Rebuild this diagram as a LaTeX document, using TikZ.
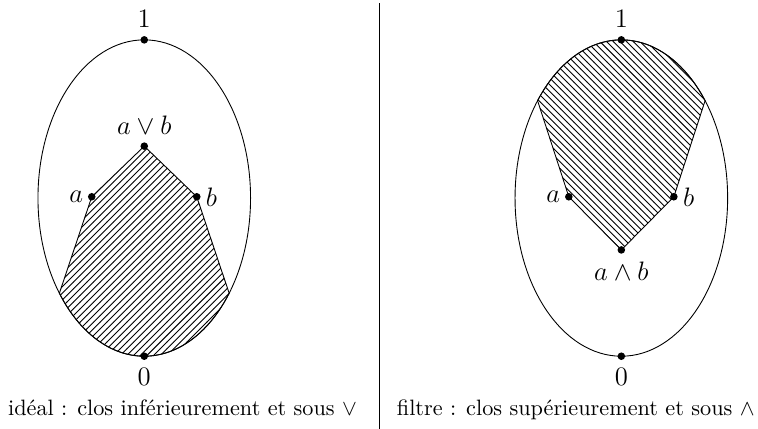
\documentclass[tikz,border=0pt]{standalone}
\usetikzlibrary{positioning, patterns, backgrounds}

\begin{document}
\begin{tikzpicture}[
    dot/.style={circle, fill=black, inner sep=0pt, minimum size=3.4pt},
    ptlabel/.style={font=\large},
    hatchleft/.style={draw, pattern=north east lines},
    hatchright/.style={draw, pattern=north west lines},
    captext/.style={anchor=base, font=\normalsize}
]
\useasboundingbox (0,0) rectangle (11.98,6.78);

% Left: ideal
\coordinate (cl) at (2.28,3.65);
\draw (cl) ellipse [x radius=1.68, y radius=2.5];
\node[dot] (onel) at (2.28,6.15) {};
\node[dot] (zerol) at (2.28,1.15) {};
\node[dot] (join) at (2.28,4.47) {};
\node[dot] (al) at (1.45,3.67) {};
\node[dot] (bl) at (3.11,3.67) {};
\coordinate (cutla) at ([shift={(217:1.68 and 2.5)}]cl);

% Right: filter
\coordinate (cr) at (9.82,3.65);
\draw (cr) ellipse [x radius=1.68, y radius=2.5];
\node[dot] (oner) at (9.82,6.15) {};
\node[dot] (zeror) at (9.82,1.15) {};
\node[dot] (meet) at (9.82,2.83) {};
\node[dot] (ar) at (8.99,3.67) {};
\node[dot] (br) at (10.65,3.67) {};
\coordinate (cutrb) at ([shift={(38:1.68 and 2.5)}]cr);

% Hatched regions
\begin{scope}[on background layer]
  \path[hatchleft] (al.center) -- (cutla)
    arc[start angle=217, end angle=323, x radius=1.68, y radius=2.5]
    -- (bl.center) -- (join.center) -- cycle;
  \path[hatchright] (br.center) -- (cutrb)
    arc[start angle=38, end angle=142, x radius=1.68, y radius=2.5]
    -- (ar.center) -- (meet.center) -- cycle;
\end{scope}

% Point labels
\node[ptlabel, above=0pt of onel] {$1$};
\node[ptlabel, below=0pt of zerol] {$0$};
\node[ptlabel, above=0pt of join] {$a \vee b$};
\node[ptlabel, left=-1.5pt of al] {$a$};
\node[ptlabel, right=-1.3pt of bl] {$b$};

\node[ptlabel, above=0pt of oner] {$1$};
\node[ptlabel, below=0pt of zeror] {$0$};
\node[ptlabel, below=0pt of meet] {$a \wedge b$};
\node[ptlabel, left=-1.5pt of ar] {$a$};
\node[ptlabel, right=-1.3pt of br] {$b$};

% Divider
\coordinate (divtop) at (5.99,6.73);
\coordinate (divbot) at (5.99,0);
\draw (divtop) -- (divbot);

% Captions
\node[captext] (capl) at (2.885,0.22) {idéal : clos inférieurement et sous $\vee$};
\node[captext] (capr) at (9.10,0.22) {filtre : clos supérieurement et sous $\wedge$};

\end{tikzpicture}
\end{document}
